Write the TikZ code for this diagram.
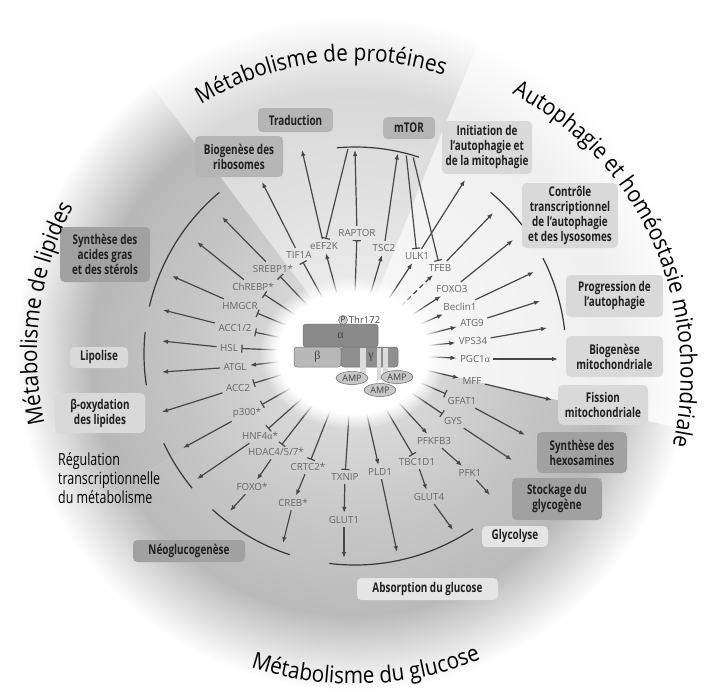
\documentclass[tikz,border=0pt]{standalone}
\usepackage{fontspec}
\setmainfont{Open Sans}
\newfontfamily\condfont[FakeStretch=0.74]{Open Sans}
\newfontfamily\titlefam[FakeStretch=0.9]{Open Sans}
\newfontfamily\greekserif{Liberation Serif}
\usepackage{tikz}
\usetikzlibrary{arrows.meta,calc,fadings,shapes.geometric}
\usetikzlibrary{decorations.text}
\tikzset{>=latex}
\usepackage{xcolor}
\colorlet{spokecol}{black!72}
\colorlet{genecol}{black!60}
\colorlet{arccol}{black!78}
\colorlet{secgray}{black!25}
\colorlet{boxdark}{black!37}
\colorlet{boxmid}{black!29}
\colorlet{boxlight}{black!15}
\colorlet{boxpale}{black!10}
\newcommand{\titlefont}{\titlefam\fontsize{23}{26}\selectfont}
\pgfdeclareradialshading[secgray]{secfade}{\pgfpoint{0bp}{0bp}}{%
  color(0bp)=(secgray!35!white); color(12bp)=(secgray!80!white);
  color(19bp)=(secgray); color(24.5bp)=(white); color(50bp)=(white)}
\tikzstyle{gene}=[font=\fontsize{9.8}{10}\selectfont,text=genecol,
  inner sep=1.5pt,outer sep=2pt]
\tikzstyle{spoke}=[line width=1.2pt,spokecol]
\tikzstyle{act}=[spoke,-{Latex[length=6pt,width=4.6pt]}]
\tikzstyle{inh}=[spoke,-{Bar[width=8pt]}]
\tikzstyle{pact}=[act,dash pattern=on 5pt off 3.5pt]
\tikzstyle{arcline}=[line width=1.2pt,arccol]
\tikzstyle{proc}=[rounded corners=4.5pt,align=center,inner sep=2pt,
  font=\condfont\bfseries\fontsize{13.4}{15}\selectfont,text=black!88]
\tikzstyle{subunit}=[rounded corners=3pt,draw=black!55,line width=0.5pt]
\tikzstyle{amp}=[ellipse,draw=black!60,fill=black!22,line width=0.5pt,
  minimum width=32pt,minimum height=13pt,inner sep=0pt,
  font=\fontsize{9}{9}\selectfont,text=black!75]
\tikzset{
  ringtitle/.style={decorate,decoration={text along path,text align=center,
                    text={|\titlefont|#1}}}}

\begin{document}
\begin{tikzpicture}[x=1pt,y=-1pt]
  \useasboundingbox (0,0) rectangle (705,691);
  \fill[white] (0,0) rectangle (705,691);
  \coordinate (ampk) at (353,353);
  \coordinate (ctr) at (355,354);
  \def\Rarc{211}

  % SECTORS
  \foreach \a/\b/\g in {233/292/15,292/373/6,373/510/27,150/233/28}{
    \colorlet{secgray}{black!\g}
    \begin{scope}
      \clip (ampk) -- ++(\a:420) arc[start angle=\a,end angle=\b,radius=420] -- cycle;
      \shade[shading=secfade] (ampk) circle (345);
    \end{scope}
  }

  % TARGETS
  \node[gene] (tif) at (299,255) {TIF1A};
  \node[gene] (eef) at (324,246) {eEF2K};
  \node[gene] (raptor) at (357,233) {RAPTOR};
  \node[gene] (tsc) at (384,248) {TSC2};
  \node[gene] (ulk) at (417,256) {ULK1};
  \node[gene] (tfeb) at (440,268) {TFEB};
  \node[gene] (foxo3) at (452,289) {FOXO3};
  \node[gene] (beclin) at (460,307) {Beclin1};
  \node[gene] (atg9) at (472,323) {ATG9};
  \node[gene] (vps) at (473,341) {VPS34};
  \node[gene] (pgc) at (475,359) {PGC1{\greekserif α}};
  \node[gene] (mff) at (472,381) {MFF};
  \node[gene] (gfat) at (462,401) {GFAT1};
  \node[gene] (gys) at (453,421) {GYS};
  \node[gene] (pfkfb) at (434,441) {PFKFB3};
  \node[gene] (pfk) at (470,473) {PFK1};
  \node[gene] (tbc) at (417,462) {TBC1D1};
  \node[gene] (glut4) at (429,497) {GLUT4};
  \node[gene] (pld) at (380,472) {PLD1};
  \node[gene] (txnip) at (345,477) {TXNIP};
  \node[gene] (glut1) at (344,520) {GLUT1};
  \node[gene] (crtc) at (308,467) {CRTC2*};
  \node[gene] (creb) at (293,503) {CREB*};
  \node[gene] (hdac) at (276,452) {HDAC4/5/7*};
  \node[gene] (foxo) at (252,487) {FOXO*};
  \node[gene] (hnf) at (260,436) {HNF4{\greekserif α}*};
  \node[gene] (p300) at (247,413) {p300*};
  \node[gene] (acc2) at (238,388) {ACC2};
  \node[gene] (atgl) at (235,367) {ATGL};
  \node[gene] (hsl) at (229,348) {HSL};
  \node[gene] (acc12) at (235,328) {ACC1/2};
  \node[gene] (hmgcr) at (240,306) {HMGCR};
  \node[gene] (chrebp) at (253,287) {ChREBP*};
  \node[gene] (srebp) at (273,269) {SREBP1*};

  % FROM AMPK
  \foreach \g in {tif,srebp,chrebp,hmgcr,acc12,hsl,acc2,p300,hnf,hdac,crtc,
                  txnip,tbc,gys,gfat,raptor}
    \draw[inh,shorten <=42pt] (ampk) -- (\g);
  \foreach \g in {eef,tsc,ulk,foxo3,beclin,atg9,vps,pgc,mff,pfkfb,pld,atgl}
    \draw[act,shorten <=42pt] (ampk) -- (\g);
  \draw[pact,shorten <=42pt] (ampk) -- (tfeb);

  % CASCADES
  \draw[act] (hdac) -- (foxo);
  \draw[act] (crtc) -- (creb);
  \draw[act] (txnip) -- (glut1);
  \draw[act] (tbc) -- (glut4);
  \draw[act] (pfkfb) -- (pfk);

  % OUTWARD ARROWS
  \foreach \g/\x/\y in {tif/262/182,eef/302/150,ulk/465/180,tfeb/493/213,
      foxo3/513/240,beclin/534/272,atg9/540/301,vps/547/328,pgc/558/359,
      mff/552/400,gfat/525/435,gys/512/460,pfk/490/495,glut4/453/530,
      pld/397/552,glut1/344/558,creb/283/543,foxo/230/511,hnf/197/479,
      p300/183/448,acc2/162/412,atgl/162/372,hsl/162/341,acc12/163/310,
      hmgcr/172/276,chrebp/197/242,srebp/222/217}{
    \coordinate (out-\g) at (\x,\y);
    \draw[act] (\g) -- (out-\g);
  }

  % MTOR
  \coordinate (out-raptor) at ($(ctr)+(270:204)$);
  \coordinate (out-tsc) at ($(ctr)+(282:205)$);
  \draw[act] (raptor) -- (out-raptor);
  \draw[act] (tsc) -- (out-tsc);
  \coordinate (mt-eef) at ($(ctr)+(268:205)$);
  \coordinate (mt-ulk) at ($(ctr)+(284.5:205)$);
  \coordinate (mt-tfeb) at ($(ctr)+(286.5:205)$);
  \draw[inh] (mt-eef) -- (eef);
  \draw[inh] (mt-ulk) -- (ulk);
  \draw[inh] (mt-tfeb) -- (tfeb);
  \draw[arcline] ($(ctr)+(265:207)$) arc[start angle=265,end angle=288,radius=207];

  % BRACKETS
  \foreach \a/\b in {193/230,171.5/186,140.5/155,108/132.5,56/97,-27/-6.5,-50/-37}
    \draw[arcline] ($(ctr)+(\a:\Rarc)$) arc[start angle=\a,end angle=\b,radius=\Rarc];

  % PROCESSES
  \node[proc,fill=boxmid,minimum width=75pt,minimum height=24pt] (traduction) at (295.5,120) {Traduction};
  \node[proc,fill=boxmid,minimum width=52pt,minimum height=22pt] (mtor) at (409,128) {mTOR};
  \node[proc,fill=boxmid,minimum width=88pt,minimum height=41pt] (ribo) at (239,156.5) {Biogenèse des\\ribosomes};
  \node[proc,fill=boxlight,minimum width=90pt,minimum height=53pt] (initiation) at (487,147.5) {Initiation de\\l’autophagie et\\de la mitophagie};
  \node[proc,fill=boxlight,minimum width=96pt,minimum height=65pt] (controle) at (570,215.5) {Contrôle\\transcriptionnel\\de l’autophagie\\et des lysosomes};
  \node[proc,fill=boxlight,minimum width=97pt,minimum height=42pt] (progression) at (614.5,296) {Progression de\\l’autophagie};
  \node[proc,fill=boxlight,minimum width=97pt,minimum height=41pt] (biomito) at (614.5,356.5) {Biogenèse\\mitochondriale};
  \node[proc,fill=boxlight,minimum width=90pt,minimum height=40pt] (fission) at (603,405) {Fission\\mitochondriale};
  \node[proc,fill=boxdark,minimum width=90pt,minimum height=41pt] (hexo) at (582,452.5) {Synthèse des\\hexosamines};
  \node[proc,fill=boxdark,minimum width=90pt,minimum height=42pt] (glycogene) at (557,499) {Stockage du\\glycogène};
  \node[proc,fill=boxpale,minimum width=66pt,minimum height=21pt] (glycolyse) at (515,536.5) {Glycolyse};
  \node[proc,fill=boxpale,minimum width=141pt,minimum height=22pt] (absorption) at (427.5,589) {Absorption du glucose};
  \node[proc,fill=boxdark,minimum width=112pt,minimum height=22pt] (neo) at (189,551) {Néoglucogenèse};
  \node[proc,fill=boxdark,minimum width=90pt,minimum height=55pt] (lipsynth) at (105,254.5) {Synthèse des\\acides gras\\et des stérols};
  \node[proc,fill=boxlight,minimum width=58pt,minimum height=21pt] (lipolise) at (99,357.5) {Lipolise};
  \node[proc,fill=boxlight,minimum width=90pt,minimum height=40pt] (betaox) at (100,413) {β-oxydation\\des lipides};
  \node[anchor=north west,inner sep=0pt,align=left,
        font=\condfont\fontsize{16.8}{19}\selectfont] (regul) at (58,452)
        {Régulation\\transcriptionnelle\\du métabolisme};

  % GLOW
  \fill[white,path fading=circle with fuzzy edge 20 percent]
    (ampk) ellipse [x radius=94,y radius=76];

  % AMPK
  \node[subunit,fill=black!46,minimum width=75pt,minimum height=23pt] (alpha) at (340.5,335.5) {};
  \node[subunit,fill=black!28,minimum width=47pt,minimum height=20pt] (beta) at (317.5,357) {};
  \node[subunit,fill=black!44,minimum width=57pt,minimum height=20pt] (gamma) at (369.5,357) {};
  \foreach \sx/\w in {363/3,379/2,385.5/2.5}
    \fill[black!14] (\sx-\w,348) rectangle (\sx+\w,380);
  \node[font=\greekserif\fontsize{12}{12}\selectfont,text=black!75] (alab) at (alpha) {α};
  \node[font=\greekserif\fontsize{12}{12}\selectfont,text=black!75] (blab) at (beta) {β};
  \node[font=\greekserif\fontsize{12}{12}\selectfont,text=black!75] (glab) at (371,357) {γ};
  \node[amp] (amp1) at (352,378) {AMP};
  \node[amp] (amp3) at (397,377) {AMP};
  \node[amp] (amp2) at (380,390) {AMP};
  \node[circle,draw=black!60,fill=black!22,inner sep=0.6pt,
        font=\fontsize{8}{8}\selectfont,text=black!80] (phos) at (343,320) {P};
  \node[anchor=west,inner sep=1pt,font=\fontsize{9.5}{10}\selectfont,
        text=black!75] (thr) at (phos.east) {Thr172};

  % TITLES
  \path[ringtitle={Métabolisme de protéines}]
    ($(ctr)+(232:293)$) arc[start angle=232,end angle=294,radius=293];
  \path[ringtitle={Métabolisme de lipides}]
    ($(ctr)+(155:318)$) arc[start angle=155,end angle=220,radius=318];
  \path[ringtitle={Autophagie et homéostasie mitochondriale}]
    plot[smooth,domain=-72:28,samples=40]
    ({355+(302+0.36*(\x+64))*cos(\x)},{354+(302+0.36*(\x+64))*sin(\x)});
  \path[ringtitle={Métabolisme du glucose}]
    ($(ctr)+(122:330)$) arc[start angle=122,end angle=54,radius=330];
\end{tikzpicture}
\end{document}
